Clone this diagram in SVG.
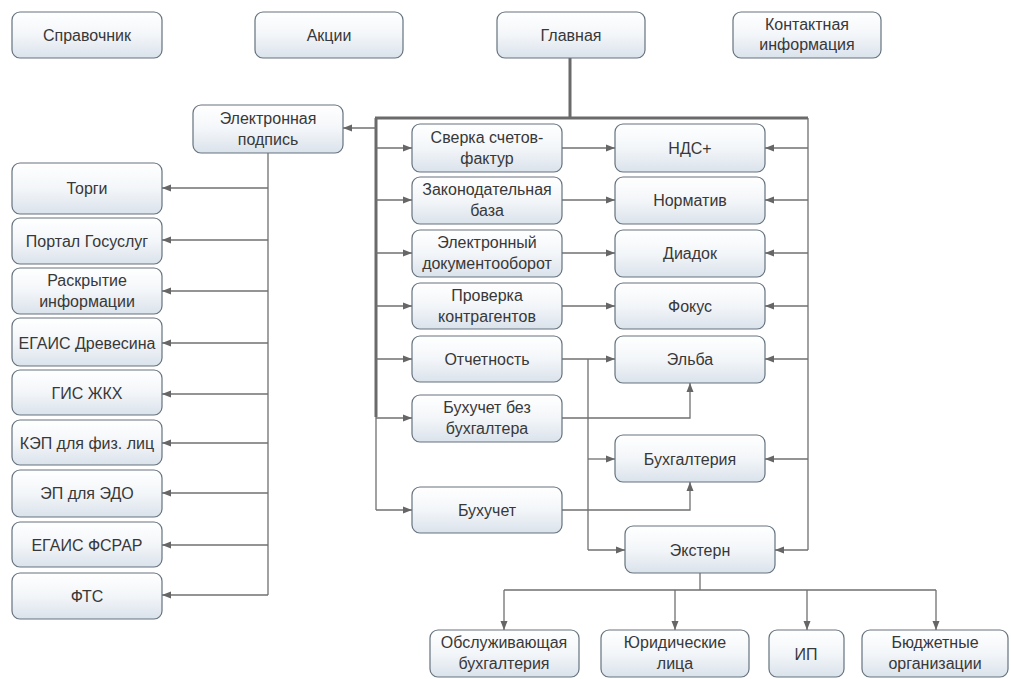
<svg xmlns="http://www.w3.org/2000/svg" width="1011" height="679" viewBox="0 0 1011 679">
<defs>
<linearGradient id="g" x1="0" y1="0" x2="0" y2="1">
<stop offset="0" stop-color="#ffffff"/>
<stop offset="0.5" stop-color="#f3f6f9"/>
<stop offset="1" stop-color="#dae2eb"/>
</linearGradient>
<marker id="a" markerUnits="userSpaceOnUse" markerWidth="9" markerHeight="8" refX="9" refY="4" orient="auto">
<path d="M0,0.5 L9,4 L0,7.5 z" fill="#666"/>
</marker>
<style>
.b{fill:url(#g);stroke:#66737f;stroke-width:1.2}
.t{font-family:"Liberation Sans",Arial,sans-serif;font-size:16px;fill:#383838;text-anchor:middle}
.c{fill:none;stroke:#707070;stroke-width:1.3}
.k{fill:none;stroke:#6a6a6a;stroke-width:3}
.m{marker-end:url(#a)}
</style>
</defs>
<rect width="1011" height="679" fill="#fff"/>
<g id="connectors">
<path class="k" d="M570,58 V118 M375,118 H808 M376,118 V417"/>
<path class="c" d="M376,417 V510 M808,118 V550 M588,359 V550 M268,153 V595 M700,573 V590 M504,590 H936"/>
<path class="c m" d="M376,128 H343"/>
<path class="c m" d="M376,148 H412"/>
<path class="c m" d="M376,200 H412"/>
<path class="c m" d="M376,253 H412"/>
<path class="c m" d="M376,306 H412"/>
<path class="c m" d="M376,359 H412"/>
<path class="c m" d="M376,418 H412"/>
<path class="c m" d="M376,510 H412"/>
<path class="c m" d="M562,148 H615"/>
<path class="c m" d="M562,200 H615"/>
<path class="c m" d="M562,253 H615"/>
<path class="c m" d="M562,306 H615"/>
<path class="c m" d="M562,359 H615"/>
<path class="c m" d="M588,459 H615"/>
<path class="c m" d="M588,550 H625"/>
<path class="c m" d="M562,418 H690 V383"/>
<path class="c m" d="M562,510 H690 V482"/>
<path class="c m" d="M808,148 H765"/>
<path class="c m" d="M808,200 H765"/>
<path class="c m" d="M808,253 H765"/>
<path class="c m" d="M808,306 H765"/>
<path class="c m" d="M808,359 H765"/>
<path class="c m" d="M808,459 H765"/>
<path class="c m" d="M808,550 H775"/>
<path class="c m" d="M268,188 H162"/>
<path class="c m" d="M268,240 H162"/>
<path class="c m" d="M268,291 H162"/>
<path class="c m" d="M268,343 H162"/>
<path class="c m" d="M268,394 H162"/>
<path class="c m" d="M268,443 H162"/>
<path class="c m" d="M268,493 H162"/>
<path class="c m" d="M268,545 H162"/>
<path class="c m" d="M268,595 H162"/>
<path class="c m" d="M504,590 V630"/>
<path class="c m" d="M675,590 V630"/>
<path class="c m" d="M807,590 V630"/>
<path class="c m" d="M936,590 V630"/>
</g>
<g id="spravochnik"><rect class="b" x="12" y="12" width="150" height="46" rx="8"/><text class="t" x="87" y="41">Справочник</text></g>
<g id="akcii"><rect class="b" x="255" y="12" width="148" height="46" rx="8"/><text class="t" x="329" y="41">Акции</text></g>
<g id="glavnaya"><rect class="b" x="497" y="12" width="148" height="46" rx="8"/><text class="t" x="571" y="41">Главная</text></g>
<g id="kontakt"><rect class="b" x="733" y="12" width="148" height="46" rx="8"/><text class="t" x="807" y="30">Контактная</text><text class="t" x="807" y="50">информация</text></g>
<g id="ep"><rect class="b" x="193" y="105" width="150" height="48" rx="8"/><text class="t" x="268" y="124">Электронная</text><text class="t" x="268" y="145">подпись</text></g>
<g id="sverka"><rect class="b" x="412" y="124" width="150" height="48" rx="8"/><text class="t" x="487" y="143">Сверка счетов-</text><text class="t" x="487" y="164">фактур</text></g>
<g id="zakon"><rect class="b" x="412" y="177" width="150" height="47" rx="8"/><text class="t" x="487" y="195">Законодательная</text><text class="t" x="487" y="216">база</text></g>
<g id="edo"><rect class="b" x="412" y="230" width="150" height="47" rx="8"/><text class="t" x="487" y="248">Электронный</text><text class="t" x="487" y="269">документооборот</text></g>
<g id="proverka"><rect class="b" x="412" y="283" width="150" height="46" rx="8"/><text class="t" x="487" y="301">Проверка</text><text class="t" x="487" y="322">контрагентов</text></g>
<g id="otchet"><rect class="b" x="412" y="336" width="150" height="46" rx="8"/><text class="t" x="487" y="365">Отчетность</text></g>
<g id="bbb"><rect class="b" x="412" y="395" width="150" height="47" rx="8"/><text class="t" x="487" y="413">Бухучет без</text><text class="t" x="487" y="434">бухгалтера</text></g>
<g id="buhuchet"><rect class="b" x="412" y="487" width="150" height="46" rx="8"/><text class="t" x="487" y="516">Бухучет</text></g>
<g id="nds"><rect class="b" x="615" y="124" width="150" height="48" rx="8"/><text class="t" x="690" y="154">НДС+</text></g>
<g id="normativ"><rect class="b" x="615" y="177" width="150" height="47" rx="8"/><text class="t" x="690" y="206">Норматив</text></g>
<g id="diadok"><rect class="b" x="615" y="230" width="150" height="47" rx="8"/><text class="t" x="690" y="259">Диадок</text></g>
<g id="fokus"><rect class="b" x="615" y="283" width="150" height="46" rx="8"/><text class="t" x="690" y="312">Фокус</text></g>
<g id="elba"><rect class="b" x="615" y="336" width="150" height="47" rx="8"/><text class="t" x="690" y="365">Эльба</text></g>
<g id="buhgalteriya"><rect class="b" x="615" y="435" width="150" height="47" rx="8"/><text class="t" x="690" y="465">Бухгалтерия</text></g>
<g id="extern"><rect class="b" x="625" y="526" width="150" height="47" rx="8"/><text class="t" x="700" y="556">Экстерн</text></g>
<g id="torgi"><rect class="b" x="12" y="163" width="150" height="51" rx="8"/><text class="t" x="87" y="194">Торги</text></g>
<g id="portal"><rect class="b" x="12" y="218" width="150" height="46" rx="8"/><text class="t" x="87" y="247">Портал Госуслуг</text></g>
<g id="raskr"><rect class="b" x="12" y="268" width="150" height="46" rx="8"/><text class="t" x="87" y="286">Раскрытие</text><text class="t" x="87" y="307">информации</text></g>
<g id="egais_dr"><rect class="b" x="12" y="318" width="150" height="48" rx="8"/><text class="t" x="87" y="349">ЕГАИС Древесина</text></g>
<g id="gis"><rect class="b" x="12" y="370" width="150" height="45" rx="8"/><text class="t" x="87" y="399">ГИС ЖКХ</text></g>
<g id="kep"><rect class="b" x="12" y="420" width="150" height="45" rx="8"/><text class="t" x="87" y="449">КЭП для физ. лиц</text></g>
<g id="ep_edo"><rect class="b" x="12" y="470" width="150" height="47" rx="8"/><text class="t" x="87" y="499">ЭП для ЭДО</text></g>
<g id="egais_fs"><rect class="b" x="12" y="522" width="150" height="45" rx="8"/><text class="t" x="87" y="551">ЕГАИС ФСРАР</text></g>
<g id="fts"><rect class="b" x="12" y="573" width="150" height="46" rx="8"/><text class="t" x="87" y="602">ФТС</text></g>
<g id="obsl"><rect class="b" x="430" y="630" width="149" height="47" rx="8"/><text class="t" x="504" y="648">Обслуживающая</text><text class="t" x="504" y="669">бухгалтерия</text></g>
<g id="yur"><rect class="b" x="601" y="630" width="148" height="47" rx="8"/><text class="t" x="675" y="648">Юридические</text><text class="t" x="675" y="669">лица</text></g>
<g id="ip"><rect class="b" x="769" y="630" width="75" height="47" rx="8"/><text class="t" x="806" y="660">ИП</text></g>
<g id="budg"><rect class="b" x="862" y="630" width="146" height="47" rx="8"/><text class="t" x="935" y="648">Бюджетные</text><text class="t" x="935" y="669">организации</text></g>
</svg>
